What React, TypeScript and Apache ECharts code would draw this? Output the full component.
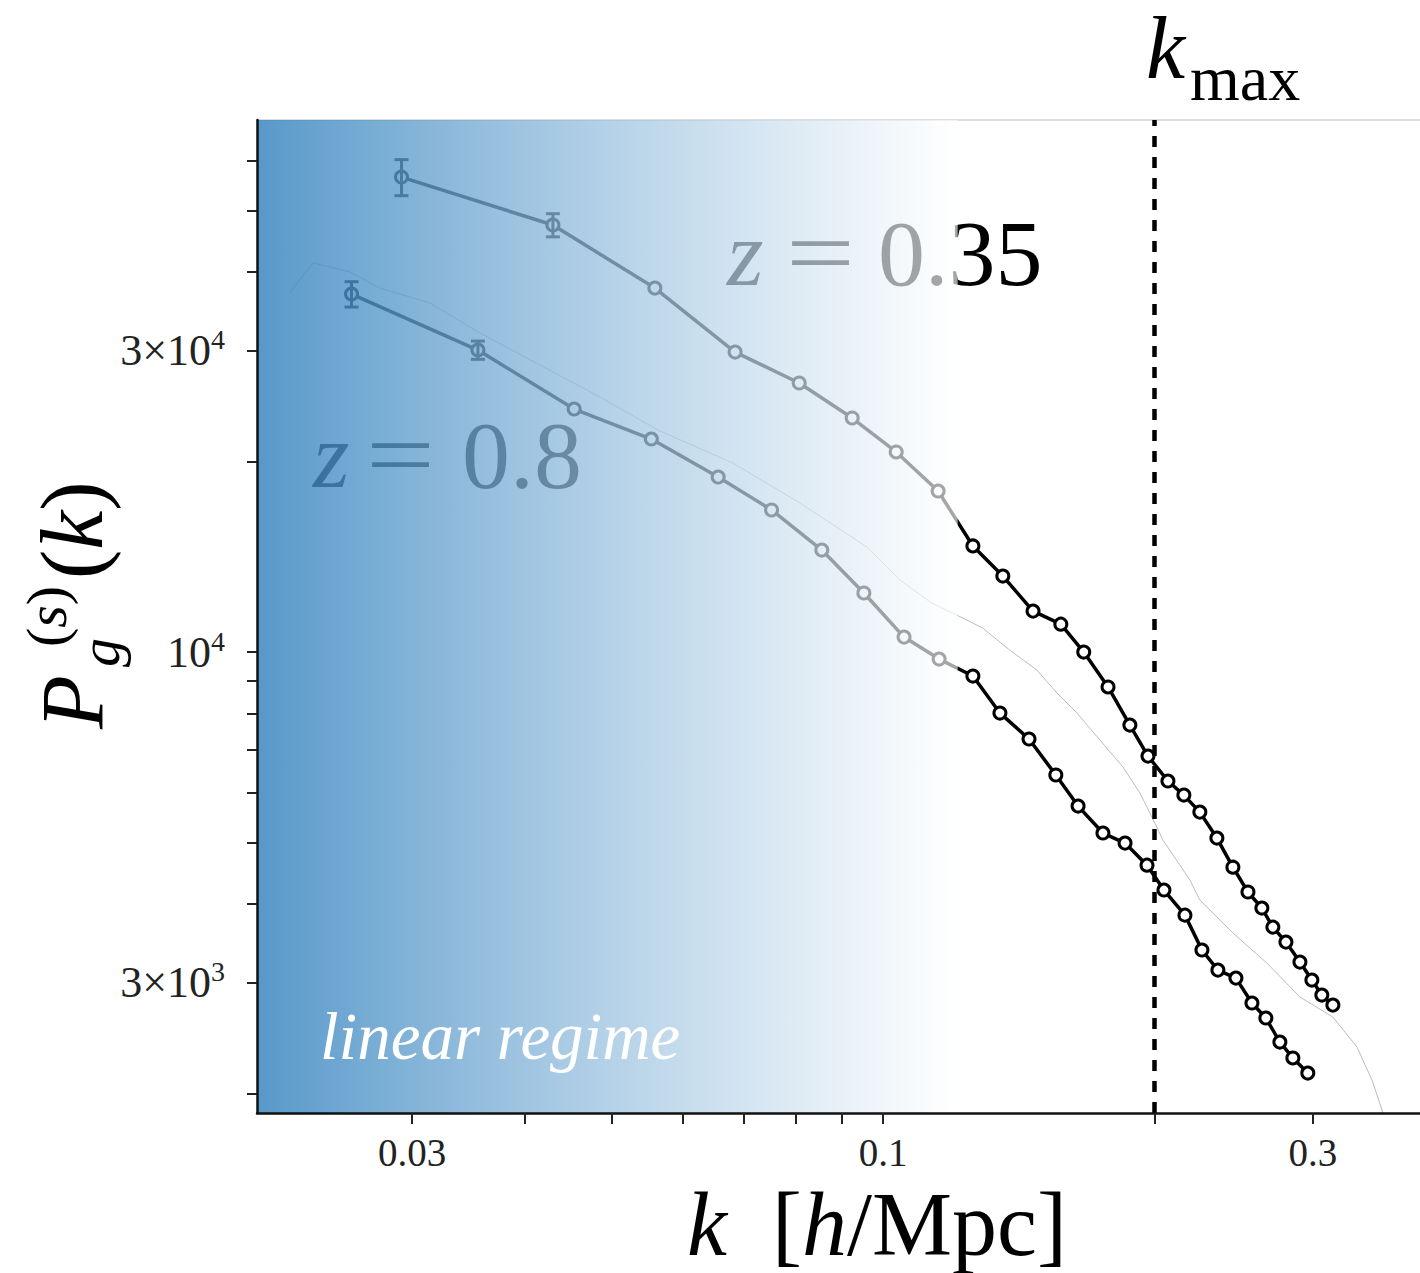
import React, { useEffect, useRef } from 'react';
import * as echarts from 'echarts';

const FONT = '"Liberation Serif", "Times New Roman", serif';

// z = 0.35 galaxy power spectrum
const kHigh = [0.0292, 0.0430, 0.0558, 0.0685, 0.0807, 0.0924, 0.1034, 0.1151, 0.1258, 0.1358, 0.1467, 0.1575, 0.1670, 0.1777, 0.1879, 0.1968, 0.2071, 0.2157, 0.2247, 0.2347, 0.2445, 0.2541, 0.2633, 0.2708, 0.2800, 0.2902, 0.2992, 0.3069, 0.3157];
const pHigh = [56440, 47390, 37660, 29830, 26650, 23460, 20730, 17980, 14720, 13190, 11610, 11070, 10000, 8806, 7665, 6845, 6251, 5939, 5582, 5078, 4567, 4172, 3935, 3671, 3476, 3232, 3027, 2866, 2763];
const errHigh = [3700, 2000];

// z = 0.8 galaxy power spectrum
const kLow = [0.0257, 0.0355, 0.0454, 0.0553, 0.0656, 0.0752, 0.0855, 0.0952, 0.1055, 0.1154, 0.1258, 0.1348, 0.1452, 0.1555, 0.1646, 0.1754, 0.1856, 0.1963, 0.2050, 0.2163, 0.2259, 0.2353, 0.2464, 0.2567, 0.2660, 0.2757, 0.2850, 0.2961];
const pLow = [36850, 30050, 24240, 21730, 18920, 16780, 14500, 12400, 10560, 9748, 9163, 8007, 7284, 6390, 5706, 5172, 4986, 4601, 4202, 3835, 3377, 3139, 3049, 2784, 2636, 2415, 2279, 2157];
const errLow = [1700, 1000];

// faint outline curve
const kOutline = [0.02196, 0.02330, 0.02561, 0.02764, 0.03142, 0.03569, 0.04851, 0.05625, 0.06813, 0.08085, 0.09597, 0.10441, 0.11316, 0.12079, 0.12905, 0.13823, 0.14815, 0.15596, 0.16415, 0.17405, 0.18461, 0.19280, 0.19779, 0.20447, 0.21906, 0.22473, 0.24452, 0.26672, 0.29015, 0.31567, 0.33581, 0.34894, 0.35889];
const pOutline = [37120, 41260, 39930, 37660, 35660, 31970, 25320, 22450, 19910, 17210, 14660, 13000, 11960, 11440, 10910, 10070, 9366, 8612, 8007, 7258, 6578, 5983, 5562, 5041, 4358, 4051, 3593, 3220, 2846, 2646, 2371, 2102, 1865];

const K_MAX = 0.2;
const K_LIN = 0.121;
const X_MIN = 0.020184;
const X_MAX = 0.39444;
const Y_MIN = 1865;
const Y_MAX = 69480;

const xTickValues = [0.03, 0.04, 0.05, 0.06, 0.07, 0.08, 0.09, 0.1, 0.2, 0.3];
const xLabelValues = [0.03, 0.1, 0.3];
const xLabelTexts = ['0.03', '0.1', '0.3'];
const yTickValues = [2000, 3000, 4000, 5000, 6000, 7000, 8000, 9000, 10000, 20000, 30000, 40000, 50000, 60000];
const yLabelValues = [3000, 10000, 30000];
const yLabelMantissas = ['3×', '', '3×'];
const yLabelExponents = ['3', '4', '4'];

const findIdx = (arr: number[], v: number) => arr.findIndex((t) => Math.abs(t - v) / t < 1e-6);

export default function App() {
  const ref = useRef<HTMLDivElement>(null);
  useEffect(() => {
    const chart = echarts.init(ref.current!, null, { renderer: 'svg' });
    const highData = kHigh.map((k, i) => [k, pHigh[i]]);
    const lowData = kLow.map((k, i) => [k, pLow[i]]);
    const outlineData = kOutline.map((k, i) => [k, pOutline[i]]);
    const errData = [
      ...errHigh.map((e, i) => [kHigh[i], pHigh[i] - e, pHigh[i] + e]),
      ...errLow.map((e, i) => [kLow[i], pLow[i] - e, pLow[i] + e]),
    ];
    const lineSeries = (name: string, data: number[][]) => ({
      name,
      type: 'line',
      data,
      z: 2,
      symbol: 'circle',
      symbolSize: 12,
      showSymbol: true,
      lineStyle: { color: '#000', width: 3.5 },
      itemStyle: { color: '#fff', borderColor: '#000', borderWidth: 3 },
      silent: true,
    });
    const italic = (fs: number) => ({ fontSize: fs, fontFamily: FONT, fontStyle: 'italic', color: '#000' });
    const roman = (fs: number) => ({ fontSize: fs, fontFamily: FONT, color: '#000' });

    const option: any = {
      animation: false,
      backgroundColor: '#fff',
      grid: { left: 257, right: 0, top: 120, bottom: 160, outerBoundsMode: 'none' },
      xAxis: [
        {
          type: 'log',
          logBase: 10,
          min: X_MIN,
          max: X_MAX,
          position: 'bottom',
          z: 15,
          axisLine: { show: true, onZero: false, lineStyle: { color: '#111', width: 2.5 } },
          axisTick: { show: true, inside: false, length: 11, customValues: xTickValues, lineStyle: { color: '#222', width: 2 } },
          axisLabel: {
            customValues: xLabelValues,
            margin: 19,
            fontSize: 39,
            lineHeight: 40,
            fontFamily: FONT,
            color: '#222',
            formatter: (v: number) => xLabelTexts[findIdx(xLabelValues, v)] ?? '',
          },
          splitLine: { show: false },
          minorTick: { show: false },
        },
        {
          type: 'log',
          logBase: 10,
          min: X_MIN,
          max: X_MAX,
          position: 'top',
          z: 1,
          axisLine: { show: true, onZero: false, lineStyle: { color: '#dddddd', width: 2 } },
          axisTick: { show: false },
          axisLabel: { show: false },
          splitLine: { show: false },
        },
      ],
      yAxis: {
        type: 'log',
        logBase: 10,
        min: Y_MIN,
        max: Y_MAX,
        position: 'left',
        z: 15,
        axisLine: { show: true, onZero: false, lineStyle: { color: '#111', width: 2.5 } },
        axisTick: { show: true, inside: false, length: 10, customValues: yTickValues, lineStyle: { color: '#222', width: 2 } },
        axisLabel: {
          customValues: yLabelValues,
          margin: 32,
          formatter: (v: number) => {
            const i = findIdx(yLabelValues, v);
            if (i < 0) return '';
            return `{a|${yLabelMantissas[i]}10}{s|${yLabelExponents[i]}}`;
          },
          rich: {
            a: { fontSize: 44, fontFamily: FONT, color: '#222', lineHeight: 50 },
            s: { fontSize: 28, fontFamily: FONT, color: '#222', verticalAlign: 'top', padding: [0, 0, 6, 0] },
          },
        },
        splitLine: { show: false },
        minorTick: { show: false },
      },
      series: [
        {
          name: 'outline',
          type: 'line',
          data: outlineData,
          z: 1,
          showSymbol: false,
          symbol: 'none',
          lineStyle: { color: '#bdbdbd', width: 1 },
          silent: true,
        },
        {
          ...lineSeries('z = 0.35', highData),
          markLine: {
            silent: true,
            symbol: ['none', 'none'],
            label: { show: false },
            lineStyle: { color: '#000', width: 4.5, type: [11, 10] },
            data: [{ xAxis: K_MAX }],
          },
        },
        lineSeries('z = 0.8', lowData),
        {
          name: 'errors',
          type: 'custom',
          z: 3,
          silent: true,
          data: errData,
          encode: { x: 0, y: [1, 2] },
          renderItem: (params: any, api: any) => {
            const k = api.value(0);
            const lo = api.value(1);
            const hi = api.value(2);
            const top = api.coord([k, hi]);
            const bot = api.coord([k, lo]);
            const w = 7;
            const st = { stroke: '#000', lineWidth: 3 };
            return {
              type: 'group',
              children: [
                { type: 'line', shape: { x1: top[0], y1: top[1], x2: bot[0], y2: bot[1] }, style: st },
                { type: 'line', shape: { x1: top[0] - w, y1: top[1], x2: top[0] + w, y2: top[1] }, style: st },
                { type: 'line', shape: { x1: bot[0] - w, y1: bot[1], x2: bot[0] + w, y2: bot[1] }, style: st },
              ],
            };
          },
        },
        {
          name: 'linear regime',
          type: 'custom',
          z: 10,
          silent: true,
          clip: false,
          data: [[X_MIN, Y_MIN, K_LIN, Y_MAX]],
          encode: { x: [0, 2], y: [1, 3] },
          renderItem: (params: any, api: any) => {
            const a = api.coord([api.value(0), api.value(3)]);
            const b = api.coord([api.value(2), api.value(1)]);
            return {
              type: 'rect',
              shape: { x: a[0], y: a[1], width: b[0] - a[0], height: b[1] - a[1] },
              style: {
                fill: new echarts.graphic.LinearGradient(0, 0, 1, 0, [
                  { offset: 0, color: 'rgba(50,130,190,0.82)' },
                  { offset: 1, color: 'rgba(255,255,255,0.65)' },
                ]),
              },
            };
          },
        },
      ],
      graphic: [
        // z = 0.35 annotation (under the overlay)
        { type: 'text', z: 4, x: 727, y: 253, style: { text: 'z', ...italic(94), verticalAlign: 'middle', textAlign: 'left' } },
        { type: 'text', z: 4, x: 786, y: 253, scaleX: 1.3, style: { text: '=', ...roman(94), verticalAlign: 'middle', textAlign: 'left' } },
        { type: 'text', z: 4, x: 878, y: 253, style: { text: '0.35', ...roman(94), verticalAlign: 'middle', textAlign: 'left' } },
        // z = 0.8 annotation
        { type: 'text', z: 4, x: 313, y: 455, style: { text: 'z', ...italic(94), verticalAlign: 'middle', textAlign: 'left' } },
        { type: 'text', z: 4, x: 366, y: 455, scaleX: 1.3, style: { text: '=', ...roman(94), verticalAlign: 'middle', textAlign: 'left' } },
        { type: 'text', z: 4, x: 462, y: 455, style: { text: '0.8', ...roman(96), verticalAlign: 'middle', textAlign: 'left' } },
        // linear regime label
        { type: 'text', z: 30, x: 320, y: 1036, style: { text: 'linear regime', ...italic(67), fill: '#fff', verticalAlign: 'middle', textAlign: 'left' } },
        // k_max label
        { type: 'text', z: 30, x: 1146, y: 48, style: { text: 'k', ...italic(88), verticalAlign: 'middle', textAlign: 'left' } },
        { type: 'text', z: 30, x: 1190, y: 78, style: { text: 'max', ...roman(64), verticalAlign: 'middle', textAlign: 'left' } },
        // x axis title
        {
          type: 'text', z: 30, x: 687, y: 1224,
          style: {
            text: '{i|k}  [{i|h}/Mpc]',
            ...roman(90),
            lineHeight: 90,
            rich: { i: { ...italic(90), lineHeight: 90 } },
            verticalAlign: 'middle',
            textAlign: 'left',
          },
        },
        // y axis title, rotated
        {
          type: 'group', z: 30, x: 102, y: 729, rotation: Math.PI / 2,
          children: [
            { type: 'text', z: 30, x: 0, y: -30, style: { text: 'P', ...italic(88), verticalAlign: 'middle', textAlign: 'left' } },
            { type: 'text', z: 30, x: 82, y: -56, style: { text: '({i|s})', ...roman(58), rich: { i: italic(58) }, verticalAlign: 'middle', textAlign: 'left' } },
            { type: 'text', z: 30, x: 62, y: -3, style: { text: 'g', ...italic(58), verticalAlign: 'middle', textAlign: 'left' } },
            { type: 'text', z: 30, x: 150, y: -30, style: { text: '({i|k})', ...roman(88), rich: { i: italic(88) }, verticalAlign: 'middle', textAlign: 'left' } },
          ],
        },
      ],
    };
    chart.setOption(option);
    return () => chart.dispose();
  }, []);
  return (
    <div
      ref={ref}
      style={{ position: 'fixed', left: 0, top: 0, width: 1420, height: 1273, background: '#fff' }}
    />
  );
}
